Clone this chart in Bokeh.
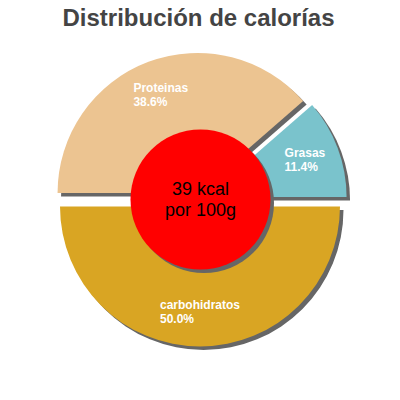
import math
from bokeh.plotting import figure
from bokeh.models import Range1d, ColumnDataSource
from bokeh.core.properties import value
from bokeh.embed import file_html
from bokeh.resources import INLINE

# ---- data ----
title = "Distribución de calorías"
categories = ["Proteinas", "Grasas", "carbohidratos"]
percents = [38.6, 11.4, 50.0]
colors = ["#ECC491", "#7AC3CC", "#D9A523"]
center_lines = ["39 kcal", "por 100g"]

W = H = 384
p = figure(width=W, height=H, output_backend="svg", toolbar_location=None,
           x_range=Range1d(0, W), y_range=Range1d(0, H), min_border=0)
p.axis.visible = False
p.grid.visible = False
p.outline_line_color = None
p.background_fill_color = "white"

cx, cy = 199.5, 185.0   # pie center (data coords)
R = 140
explode = 7
shadow_dx, shadow_dy = 3.5, -3.5
shadow_col = "#666666"

# wedge angles: start at 180 deg, clockwise
starts, ends, xs, ys, lx, ly = [], [], [], [], [], []
a = math.pi
for pct in percents:
    sweep = pct / 100 * 2 * math.pi
    s = a
    e = a - sweep
    mid = (s + e) / 2
    starts.append(s)
    ends.append(e)
    xs.append(cx + explode * math.cos(mid))
    ys.append(cy + explode * math.sin(mid))
    lx.append(cx + explode * math.cos(mid) + 0.75 * R * math.cos(mid))
    ly.append(cy + explode * math.sin(mid) + 0.75 * R * math.sin(mid))
    a = e

src = ColumnDataSource(dict(x=xs, y=ys, sx=[x + shadow_dx for x in xs],
                            sy=[y + shadow_dy for y in ys],
                            start=starts, end=ends, color=colors,
                            label=[f"{c}\n{v:.1f}%" for c, v in zip(categories, percents)],
                            lx=lx, ly=ly))

# shadows
p.wedge(x="sx", y="sy", radius=R, start_angle="start", end_angle="end",
        direction="clock", fill_color=shadow_col, line_color=None, source=src)
# slices
p.wedge(x="x", y="y", radius=R, start_angle="start", end_angle="end",
        direction="clock", fill_color="color", line_color=None, source=src)

# center circle
r_in = 70
p.circle(x=[cx + 0.5 + shadow_dx], y=[cy + shadow_dy], radius=r_in,
         fill_color=shadow_col, line_color=None)
p.circle(x=[cx + 0.5], y=[cy], radius=r_in, fill_color="#FF0000", line_color=None)

# slice labels
p.text(x="lx", y="ly", text="label", source=src, text_color="white",
       text_font=value("Liberation Sans"), text_font_size="12px",
       text_font_style="bold",
       text_align="left", anchor="center", text_line_height=1.0)

# center text
p.text(x=[cx + 0.5], y=[cy], text=["\n".join(center_lines)],
       text_color="black", text_font=value("Liberation Sans"),
       text_font_size="18px", text_align="center", anchor="center",
       text_line_height=1.05)

# title
p.text(x=[W / 2 + 6], y=[H - 17], text=[title], text_color="#444444",
       text_font=value("Liberation Sans"), text_font_style="bold",
       text_font_size="24px", text_align="center", text_baseline="middle")

open("out.html", "w").write(file_html(p, INLINE))
